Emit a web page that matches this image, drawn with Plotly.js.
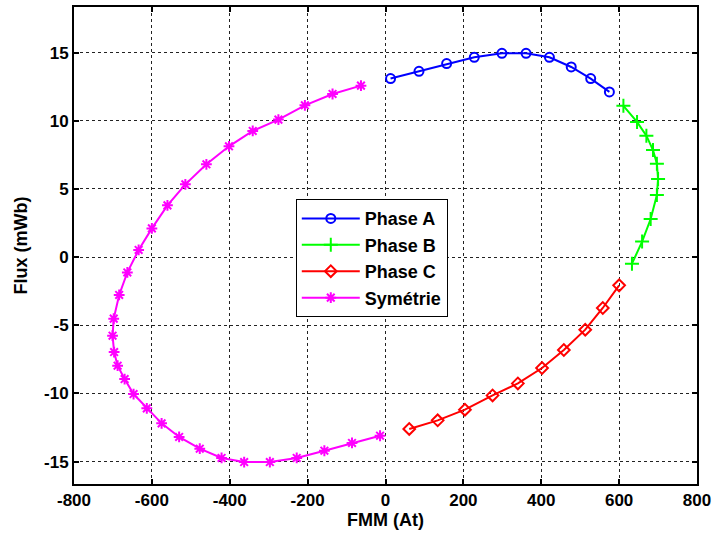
<!DOCTYPE html>
<html>
<head>
<meta charset="utf-8">
<script src="https://cdn.plot.ly/plotly-3.0.1.min.js"></script>
<style>html,body{margin:0;padding:0;background:#fff;}#chart{width:713px;height:535px;}</style>
</head>
<body>
<div id="chart"></div>
<script>
var phaseA_x = [13, 86, 157, 228, 299, 361, 421, 477, 527, 575];
var phaseA_y = [13.1, 13.63, 14.2, 14.66, 14.95, 14.95, 14.66, 13.95, 13.1, 12.12];

var phaseB_x = [611, 646, 670, 687, 697, 700, 697, 681, 659, 633];
var phaseB_y = [11.1, 9.92, 8.91, 7.86, 6.86, 5.74, 4.56, 2.8, 1.14, -0.48];

var phaseC_x = [61, 134, 204, 275, 340, 402, 458, 513, 558, 600];
var phaseC_y = [-12.6, -11.97, -11.19, -10.14, -9.26, -8.13, -6.81, -5.32, -3.73, -2.07];

var sym_x = [-63, -136, -207, -275, -341, -402, -460, -514, -560, -600,
             -634, -663, -684, -698, -701, -697, -688, -670, -647, -613,
             -575, -530, -477, -421, -363, -297, -228, -157, -86, -14];
var sym_y = [12.58, 11.97, 11.14, 10.09, 9.26, 8.13, 6.81, 5.34, 3.8, 2.11,
             0.53, -1.12, -2.77, -4.51, -5.76, -6.96, -7.96, -8.94, -10.04, -11.09,
             -12.19, -13.19, -14.05, -14.73, -15.03, -15.03, -14.73, -14.2, -13.63, -13.1];

var names = ['Phase A', 'Phase B', 'Phase C', 'Symétrie'];

var xTickVals = [-800, -600, -400, -200, 0, 200, 400, 600, 800];
var xTickText = ['-800', '-600', '-400', '-200', '0', '200', '400', '600', '800'];
var yTickVals = [-15, -10, -5, 0, 5, 10, 15];
var yTickText = ['-15', '-10', '-5', '0', '5', '10', '15'];

function mk(x, y, name, color, symbol, size) {
  return {
    x: x, y: y, name: name, type: 'scatter', mode: 'lines+markers',
    line: {color: color, width: 2},
    marker: {symbol: symbol, size: size, color: color,
             line: {color: color, width: 2}}
  };
}

var data = [
  mk(phaseA_x, phaseA_y, names[0], '#0000ff', 'circle-open', 9),
  mk(phaseB_x, phaseB_y, names[1], '#00ff00', 'cross-thin-open', 10),
  mk(phaseC_x, phaseC_y, names[2], '#ff0000', 'diamond-open', 9),
  mk(sym_x, sym_y, names[3], '#ff00ff', 'asterisk-open', 9)
];

var FAM = 'Liberation Sans, Arial, sans-serif';
var tickFont = {family: FAM, size: 17, color: '#000', weight: 'bold'};

var axisCommon = {
  showline: true, linecolor: '#000', linewidth: 2, mirror: 'ticks',
  ticks: 'inside', ticklen: 5, tickwidth: 2, tickcolor: '#000',
  showgrid: true, gridcolor: '#222', gridwidth: 1, griddash: '3px,3px',
  zeroline: false, tickfont: tickFont
};

var layout = {
  width: 713, height: 535,
  margin: {l: 74, r: 16, t: 7, b: 51},
  paper_bgcolor: '#fff', plot_bgcolor: '#fff',
  showlegend: true,
  xaxis: Object.assign({}, axisCommon, {
    range: [-800, 800], tickmode: 'array', tickvals: xTickVals, ticktext: xTickText,
    title: {text: 'FMM (At)', standoff: 2,
            font: {family: FAM, size: 18, color: '#000', weight: 'bold'}}
  }),
  yaxis: Object.assign({}, axisCommon, {
    range: [-16.64, 18.35], tickmode: 'array', tickvals: yTickVals, ticktext: yTickText,
    title: {text: 'Flux (mWb)', standoff: 12,
            font: {family: FAM, size: 18, color: '#000', weight: 'bold'}}
  }),
  legend: {
    x: 0.356, y: 0.597, xanchor: 'left', yanchor: 'top',
    bgcolor: '#fff', bordercolor: '#000', borderwidth: 1,
    font: {family: FAM, size: 18, color: '#000', weight: 'bold'},
    tracegroupgap: 0, itemwidth: 58
  }
};

Plotly.newPlot('chart', data, layout, {displayModeBar: false, staticPlot: true});
</script>
</body>
</html>
